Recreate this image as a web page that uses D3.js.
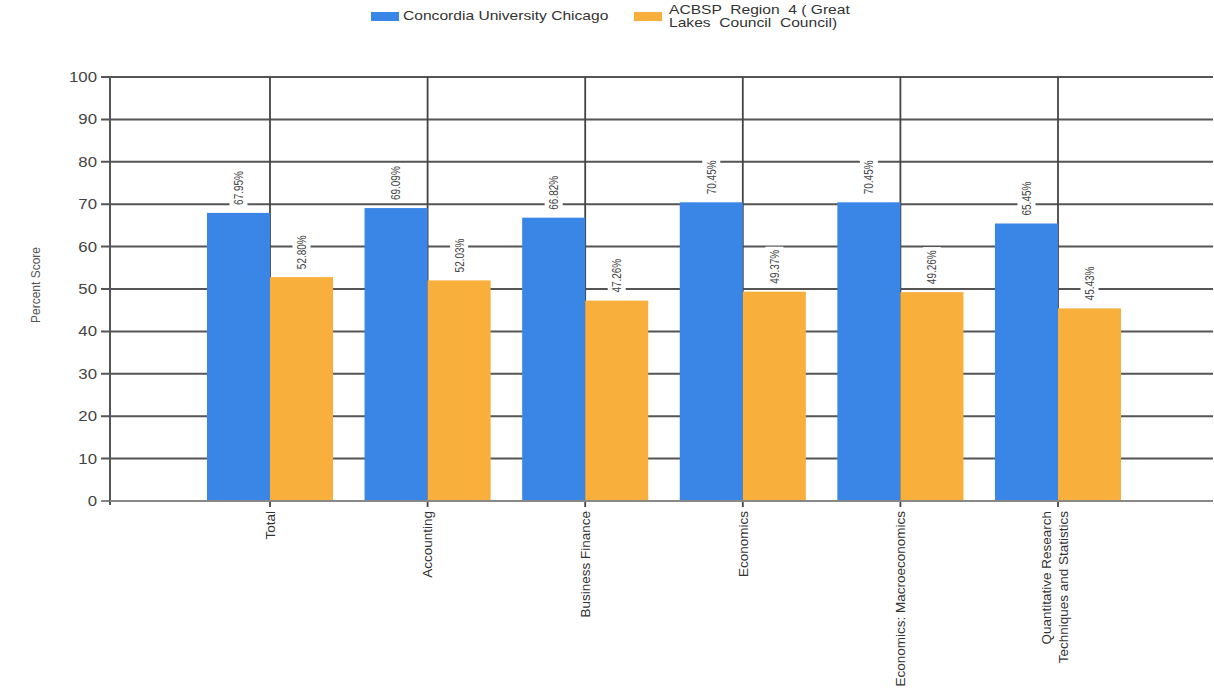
<style>body { margin: 0; }</style>
<svg id="chart" width="1214" height="698"></svg>

<script src="https://cdnjs.cloudflare.com/ajax/libs/d3/7.8.5/d3.min.js"></script>
<script>
  // Chart data
  const categories = ['Total', 'Accounting', 'Business Finance', 'Economics',
    'Economics: Macroeconomics', 'Quantitative Research\nTechniques and Statistics']
  const concordia = [67.95, 69.09, 66.82, 70.45, 70.45, 65.45]
  const acbsp = [52.80, 52.03, 47.26, 49.37, 49.26, 45.43]
  const seriesNames = ['Concordia University Chicago', 'ACBSP  Region  4 ( Great\nLakes  Council  Council)']
  const yTicks = [0, 10, 20, 30, 40, 50, 60, 70, 80, 90, 100]

  const blue = '#3a86e6'
  const orange = '#f8af3b'
  const font = 'Liberation Sans, Arial, sans-serif'

  const svg = d3.select('#chart')
    .style('background', '#fff')
    .style('font-family', font)

  // plot area edges
  const plotL = 110, plotR = 1213, plotT = 77, plotB = 501

  // scales
  const x = d3.scalePoint()
    .domain(categories)
    .range([270, 1058])
  const barW = x.step() * 0.4
  const y = d3.scaleLinear()
    .domain([0, 100])
    .range([plotB, plotT])

  // horizontal grid
  svg.append('g')
    .selectAll('line')
    .data(yTicks)
    .enter()
    .append('line')
    .attr('x1', plotL - 9)
    .attr('x2', plotR)
    .attr('y1', d => y(d))
    .attr('y2', d => y(d))
    .attr('stroke', d => d === 0 ? '#888' : '#555')
    .attr('stroke-width', 2)

  // vertical grid at each category
  svg.append('g')
    .selectAll('line')
    .data(categories)
    .enter()
    .append('line')
    .attr('x1', d => x(d))
    .attr('x2', d => x(d))
    .attr('y1', plotT)
    .attr('y2', plotB + 6)
    .attr('stroke', '#444')
    .attr('stroke-width', 1.8)

  // y axis line
  svg.append('line')
    .attr('x1', plotL).attr('x2', plotL)
    .attr('y1', plotT).attr('y2', plotB + 4)
    .attr('stroke', '#555')
    .attr('stroke-width', 2)

  // y tick labels (slightly widened like the original)
  svg.append('g')
    .selectAll('text')
    .data(yTicks)
    .enter()
    .append('text')
    .attr('transform', d => `translate(${plotL - 13},${y(d)}) scale(1.2,1)`)
    .attr('dy', '0.35em')
    .attr('text-anchor', 'end')
    .attr('font-size', 14)
    .attr('fill', '#444')
    .text(d => d)

  svg.append('text')
    .attr('transform', 'translate(40,285) rotate(-90)')
    .attr('text-anchor', 'middle')
    .attr('font-size', 12)
    .attr('fill', '#555')
    .text('Percent Score')

  // bars
  const groups = [
    { values: concordia, color: blue, offset: -barW },
    { values: acbsp, color: orange, offset: 0 }
  ]

  groups.forEach(g => {
    svg.append('g')
      .selectAll('rect')
      .data(categories)
      .enter()
      .append('rect')
      .attr('x', d => x(d) + g.offset)
      .attr('width', barW)
      .attr('y', (d, i) => y(g.values[i]))
      .attr('height', (d, i) => plotB - y(g.values[i]))
      .attr('fill', g.color)

    // value labels, rotated, with a white box behind
    const lab = svg.append('g')
      .selectAll('g')
      .data(categories)
      .enter()
      .append('g')
      .attr('transform', (d, i) => `translate(${x(d) + g.offset + barW / 2},${y(g.values[i]) - 8}) rotate(-90)`)
    lab.append('rect')
      .attr('x', -2)
      .attr('y', -9)
      .attr('width', 39)
      .attr('height', 18)
      .attr('fill', '#fff')
    lab.append('text')
      .attr('dy', '0.35em')
      .attr('font-size', 10)
      .attr('fill', '#444')
      .attr('transform', 'scale(1,1.25)')
      .text((d, i) => g.values[i].toFixed(2) + '%')
  })

  // x axis line
  svg.append('line')
    .attr('x1', plotL).attr('x2', plotR)
    .attr('y1', plotB).attr('y2', plotB)
    .attr('stroke', '#888')
    .attr('stroke-width', 2)

  // x labels, rotated
  const xl = svg.append('g')
    .selectAll('text')
    .data(categories)
    .enter()
    .append('text')
    .attr('transform', d => `translate(${x(d)},${plotB + 10}) rotate(-90)`)
    .attr('text-anchor', 'end')
    .attr('font-size', 13.5)
    .attr('fill', '#333')
  xl.each(function (d) {
    const lines = d.split('\n')
    const el = d3.select(this)
    lines.forEach((t, k) => {
      el.append('tspan')
        .attr('x', 0)
        .attr('y', (k - (lines.length - 1) / 2) * 17 - (lines.length - 1) * 3)
        .attr('dy', '0.35em')
        .text(t)
    })
  })

  // legend
  const legend = svg.append('g')
  const legendItems = [
    { name: seriesNames[0], color: blue, sx: 371, tx: 403 },
    { name: seriesNames[1], color: orange, sx: 634, tx: 669 }
  ]
  legendItems.forEach(it => {
    legend.append('rect')
      .attr('x', it.sx).attr('y', 12)
      .attr('width', 28).attr('height', 9)
      .attr('fill', it.color)
    const lines = it.name.split('\n')
    const t = legend.append('text')
      .attr('transform', `translate(${it.tx},0) scale(1.3,1)`)
      .attr('font-size', 12)
      .attr('fill', '#333')
    lines.forEach((s, k) => {
      t.append('tspan')
        .attr('x', 0)
        .attr('y', 16 + (k - (lines.length - 1) / 2) * 13)
        .attr('dy', '0.35em')
        .style('white-space', 'pre')
        .text(s)
    })
  })
</script>
